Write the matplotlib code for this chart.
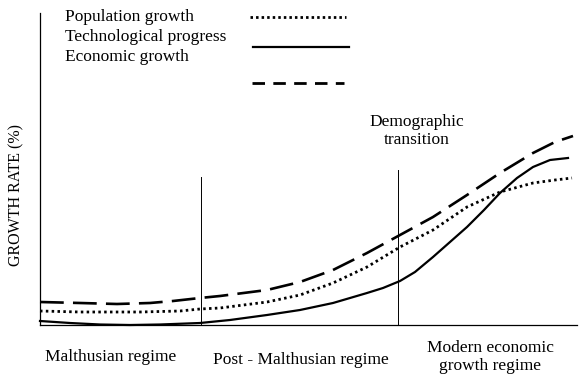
import numpy as np
import matplotlib.pyplot as plt

# schematic growth rates (time, rate) in arbitrary units
t_econ = [0, 40, 77, 110, 133, 160, 180, 227, 260, 293, 327, 360, 393, 427, 460, 493, 515, 533]
econ = [23, 22, 21, 22, 24, 27, 29, 35, 43, 55, 72, 90, 108, 130, 152, 172, 183, 189]

t_pop = [0, 40, 100, 140, 160, 180, 227, 260, 293, 327, 360, 393, 427, 460, 493, 515, 532]
pop = [14, 13, 13, 14, 16, 17, 23, 30, 42, 58, 78, 95, 118, 133, 142, 145, 147]

t_tech = [0, 30, 60, 90, 120, 160, 190, 227, 260, 293, 327, 343, 360, 375, 393, 410,
          427, 444, 460, 477, 493, 510, 528]
tech = [4, 2, 0.5, 0, 0.5, 2, 5, 10, 15, 22, 32, 37, 44, 53, 68, 83,
        98, 115, 132, 147, 158, 165, 167]

regime_bounds = [161, 358]   # Malthusian / post-Malthusian, demographic transition
bound_tops = [148, 155]

W, H = 588, 382
fig = plt.figure(figsize=(W / 100, H / 100), dpi=100)
ax = fig.add_axes([40 / W, (H - 325) / H, 537 / W, 312 / H])
ax.set_xlim(0, 537)
ax.set_ylim(0, 312)
for s in ['top', 'right']:
    ax.spines[s].set_visible(False)
ax.spines['left'].set_linewidth(0.9)
ax.spines['bottom'].set_linewidth(0.9)
ax.set_xticks([])
ax.set_yticks([])

ax.plot(t_econ, econ, color='black', lw=1.9, ls=(0, (9, 3.5)), clip_on=False)
ax.plot(t_pop, pop, color='black', lw=2.0, ls=(0, (0.9, 1.2)), clip_on=False)
ax.plot(t_tech, tech, color='black', lw=1.6, clip_on=False)

for xb, yt in zip(regime_bounds, bound_tops):
    ax.plot([xb, xb], [0, yt], color='black', lw=0.7)

serif = 'Liberation Serif'
fs = 12.5

def ftext(x, y, s, size=fs, **kw):
    fig.text(x / W, 1 - y / H, s, family=serif, fontsize=size, va='center', **kw)

# legend-style labels and line samples
ftext(65, 17, 'Population growth')
ftext(65, 37, 'Technological progress')
ftext(65, 57, 'Economic growth')
fig.add_artist(plt.Line2D([250 / W, 346 / W], [1 - 17 / H] * 2, color='black',
                          lw=2.0, ls=(0, (0.9, 1.1))))
fig.add_artist(plt.Line2D([253 / W, 349 / W], [1 - 47 / H] * 2, color='black', lw=1.6))
fig.add_artist(plt.Line2D([252 / W, 344 / W], [1 - 83 / H] * 2, color='black',
                          lw=2.0, ls=(0, (4.5, 3))))

ftext(417, 131, 'Demographic\ntransition', ha='center', linespacing=1.15)
ftext(111, 357, 'Malthusian regime', ha='center')
ftext(301, 360, 'Post - Malthusian regime', ha='center')
ftext(490, 357, 'Modern economic\ngrowth regime', ha='center', linespacing=1.15)
ftext(16, 195, 'GROWTH RATE (%)', size=11.5, ha='center', rotation=90)

fig.savefig('out.png', dpi=100)
